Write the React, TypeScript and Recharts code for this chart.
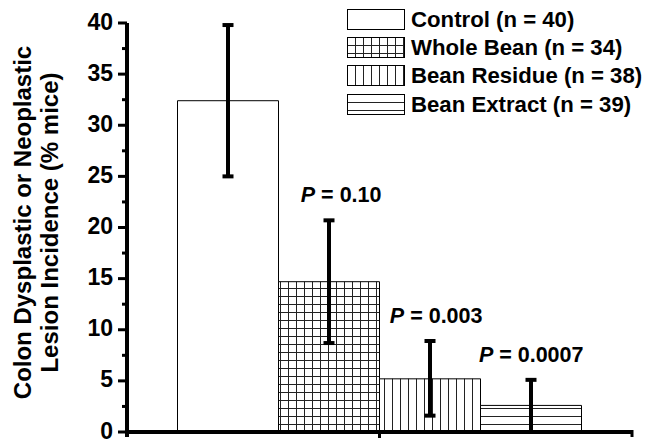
import React from 'react';
import { BarChart, Bar, XAxis, YAxis, ErrorBar, Legend, LabelList } from 'recharts';

const FONT = '"Liberation Sans", Arial, Helvetica, sans-serif';

// groups, values (% mice) and error bars
const groups = ['Control (n = 40)', 'Whole Bean (n = 34)', 'Bean Residue (n = 38)', 'Bean Extract (n = 39)'];
const keys = ['control', 'whole', 'residue', 'extract'];
const incidence = [32.4, 14.7, 5.2, 2.6];
const errLow = [7.4, 6.0, 3.6, 2.6];
const errHigh = [7.4, 6.0, 3.7, 2.5];
const pValues = ['', '0.10', '0.003', '0.0007'];
const yTicks = [0, 2.5, 5, 7.5, 10, 12.5, 15, 17.5, 20, 22.5, 25, 27.5, 30, 32.5, 35, 37.5, 40];
const fills = ['#ffffff', 'url(#pat-grid)', 'url(#pat-vlines)', 'url(#pat-hlines)'];

const row: Record<string, any> = { name: '' };
keys.forEach((k, i) => {
  row[k] = incidence[i];
  row[k + 'Err'] = [errLow[i], errHigh[i]];
});
const data = [row];

function Patterns() {
  return (
    <svg width={0} height={0} style={{ position: 'absolute' }}>
      <defs>
        <pattern id="pat-grid" patternUnits="userSpaceOnUse" width={8} height={8}>
          <rect width={8} height={8} fill="#fff" />
          <path d="M0.5 0 V8 M0 0.5 H8" stroke="#222" strokeWidth={1} />
        </pattern>
        <pattern id="pat-vlines" patternUnits="userSpaceOnUse" width={8} height={8}>
          <rect width={8} height={8} fill="#fff" />
          <path d="M0.5 0 V8" stroke="#222" strokeWidth={1} />
        </pattern>
        <pattern id="pat-hlines" patternUnits="userSpaceOnUse" width={8} height={8}>
          <rect width={8} height={8} fill="#fff" />
          <path d="M0 0.5 H8" stroke="#222" strokeWidth={1} />
        </pattern>
      </defs>
    </svg>
  );
}

function YTick(props: any) {
  const { x, y, payload } = props;
  const v = payload.value;
  const major = v % 5 === 0;
  return (
    <g>
      <line x1={x - (major ? 9 : 5)} x2={x} y1={y} y2={y} stroke="#000" strokeWidth={3} />
      {major ? (
        <text
          x={x - 14}
          y={y - 1.5}
          textAnchor="end"
          dominantBaseline="central"
          fontFamily={FONT}
          fontWeight="bold"
          fontSize={23}
          fill="#000"
        >
          {v}
        </text>
      ) : null}
    </g>
  );
}

// single category: ticks at both ends of the axis and at its middle, pointing down
function XTick(props: any) {
  const { x, y } = props;
  const half = (props.width ?? 505) / 2;
  return (
    <g stroke="#000" strokeWidth={3}>
      <line x1={x - half} x2={x - half} y1={y - 2} y2={y + 5} strokeWidth={4} />
      <line x1={x} x2={x} y1={y - 2} y2={y + 6} />
      <line x1={x + half} x2={x + half} y1={y - 2} y2={y + 5} />
    </g>
  );
}

function YLabel(props: any) {
  const vb = props.viewBox;
  const cy = vb ? vb.y + vb.height / 2 - 5 : 222;
  return (
    <text
      transform={`translate(31, ${cy}) rotate(-90)`}
      textAnchor="middle"
      fontFamily={FONT}
      fontWeight="bold"
      fontSize={24}
      fill="#000"
    >
      <tspan x={0} dy={0}>Colon Dysplastic or Neoplastic</tspan>
      <tspan x={0} dy={27}>Lesion Incidence (% mice)</tspan>
    </text>
  );
}

function pLabel(i: number) {
  return (props: any) => {
    if (!pValues[i]) return null;
    const vb = props.viewBox || props;
    const { x, y, width, height } = vb;
    const bottom = y + height;
    const perUnit = height / incidence[i];
    const errTop = bottom - (incidence[i] + errHigh[i]) * perUnit;
    return (
      <text
        x={x + width + 2}
        y={errTop - 18}
        textAnchor="end"
        fontFamily={FONT}
        fontWeight="bold"
        fontSize={21.5}
        fill="#000"
      >
        <tspan fontStyle="italic">P</tspan>
        <tspan>{' = ' + pValues[i]}</tspan>
      </text>
    );
  };
}

function LegendBox() {
  return (
    <div style={{ display: 'flex', flexDirection: 'column' }}>
      {groups.map((g, i) => (
        <div key={g} style={{ display: 'flex', alignItems: 'center', height: 28.3 }}>
          <svg width={58} height={21} style={{ display: 'block' }}>
            <rect x={0.5} y={0.5} width={57} height={20} fill={fills[i]} stroke="#000" strokeWidth={1} />
          </svg>
          <span
            style={{
              marginLeft: 6,
              fontFamily: FONT,
              fontWeight: 'bold',
              fontSize: 22.2,
              color: '#000',
              whiteSpace: 'nowrap',
              lineHeight: '23px',
            }}
          >
            {g}
          </span>
        </div>
      ))}
    </div>
  );
}

export default function App() {
  return (
    <div style={{ position: 'absolute', left: 0, top: 0, width: 647, height: 442, background: '#fff' }}>
      <Patterns />
      <BarChart
        width={647}
        height={442}
        data={data}
        margin={{ top: 23, right: 15, bottom: 0, left: 0 }}
        barCategoryGap="10%"
        barGap={0}
      >
        <XAxis
          dataKey="name"
          height={10}
          tickSize={0}
          tickMargin={0}
          tickLine={false}
          tick={<XTick />}
          axisLine={{ stroke: '#000', strokeWidth: 4 }}
        />
        <YAxis
          type="number"
          domain={[0, 40]}
          ticks={yTicks}
          interval={0}
          width={127}
          tickSize={0}
          tickMargin={0}
          tickLine={false}
          tick={<YTick />}
          axisLine={{ stroke: '#000', strokeWidth: 4 }}
          label={<YLabel />}
        />
        <Legend
          layout="vertical"
          align="center"
          verticalAlign="middle"
          content={<LegendBox />}
          wrapperStyle={{ top: 5, left: 347, width: 'auto', height: 'auto' }}
        />
        {keys.map((k, i) => (
          <Bar
            key={k}
            dataKey={k}
            name={groups[i]}
            fill={fills[i]}
            stroke="#000"
            strokeWidth={1}
            isAnimationActive={false}
          >
            <ErrorBar dataKey={k + 'Err'} width={5.5} strokeWidth={4} stroke="#000" direction="y" />
            <LabelList dataKey={k} content={pLabel(i)} />
          </Bar>
        ))}
      </BarChart>
    </div>
  );
}
